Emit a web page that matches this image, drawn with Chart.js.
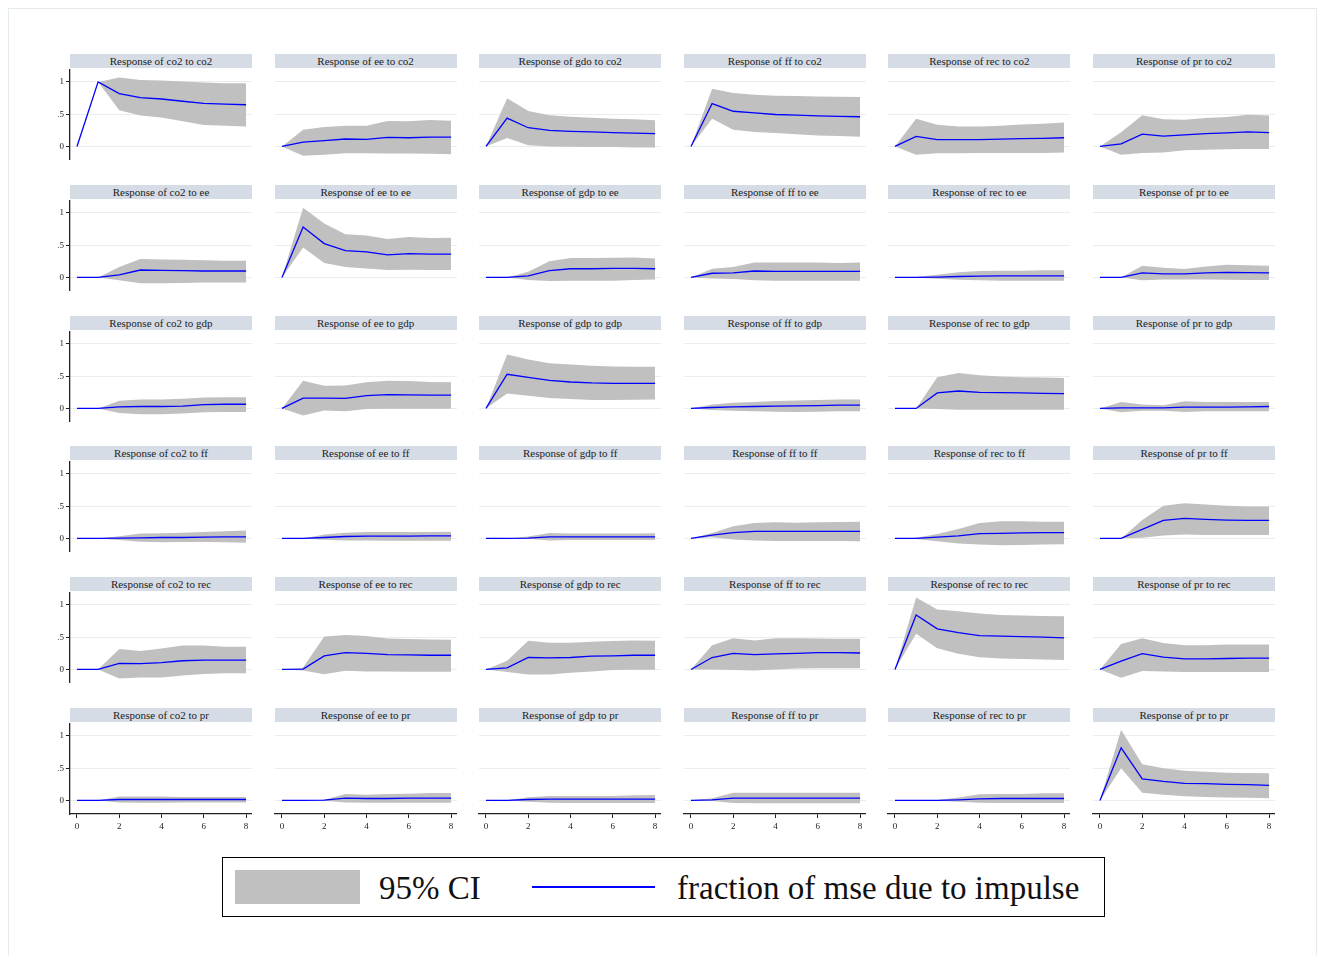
<!DOCTYPE html>
<html>
<head>
<meta charset="utf-8">
<script src="https://cdn.jsdelivr.net/npm/chart.js@4.4.1/dist/chart.umd.min.js"></script>
<style>
body{margin:0;background:#fff;font-family:"Liberation Serif","Times New Roman",serif}
#wrap{position:relative;width:1319px;height:956px;overflow:hidden}
#frame{position:absolute;left:8px;top:8px;width:1307px;height:960px;border:1px solid #e3ebee}
.ttl{position:absolute;width:182px;height:14px;line-height:14px;background:#d5dce6;color:#222;font-size:11px;text-align:center;white-space:nowrap}
canvas{position:absolute}
#legend{position:absolute;left:222px;top:857px;width:883px;height:60px;border:1.5px solid #000;box-sizing:border-box}
#legend .sw{position:absolute;left:12px;top:12px;width:125px;height:34px;background:#c0c0c0}
#legend .ln{position:absolute;left:309px;top:28px;width:123px;height:2px;background:#0000ff}
#legend .tx{position:absolute;top:10px;font-size:33px;line-height:40px;color:#111}
</style>
</head>
<body>
<div id="wrap">
<div id="frame"></div>
<div id="legend">
<div class="sw"></div><div class="tx" style="left:156px">95% CI</div>
<div class="ln"></div><div class="tx" style="left:454px">fraction of mse due to impulse</div>
</div>
</div>
<script>

// horizon steps and variable names (responses = columns, impulses = rows)
const steps=[0,1,2,3,4,5,6,7,8]
const names=["co2","ee","gdp","ff","rec","pr"]

// impulse co2: series for responses co2, ee, gdp, ff, rec, pr
const irf_co2=[
[0,1.0,0.82,0.755,0.735,0.70,0.667,0.656,0.646],
[0,0.068,0.09,0.115,0.11,0.14,0.135,0.145,0.145],
[0,0.44,0.29,0.25,0.235,0.225,0.215,0.205,0.20],
[0,0.665,0.545,0.52,0.495,0.485,0.475,0.465,0.46],
[0,0.155,0.105,0.105,0.105,0.115,0.12,0.125,0.135],
[0,0.04,0.19,0.16,0.18,0.20,0.21,0.225,0.215]]
const lo_co2=[
[0,1.0,0.56,0.48,0.45,0.39,0.333,0.32,0.31],
[0,-0.145,-0.13,-0.105,-0.105,-0.11,-0.11,-0.115,-0.12],
[0,0.13,0.02,0,-0.005,-0.01,-0.01,-0.015,-0.015],
[0,0.43,0.26,0.225,0.21,0.19,0.17,0.16,0.15],
[0,-0.13,-0.105,-0.105,-0.10,-0.10,-0.10,-0.10,-0.095],
[0,-0.13,-0.10,-0.095,-0.06,-0.05,-0.045,-0.04,-0.04]]
const hi_co2=[
[0,1.0,1.07,1.03,1.02,1.005,0.99,0.98,0.98],
[0,0.26,0.30,0.32,0.32,0.395,0.39,0.41,0.40],
[0,0.745,0.55,0.485,0.46,0.445,0.43,0.42,0.405],
[0,0.895,0.83,0.80,0.785,0.78,0.775,0.77,0.765],
[0,0.43,0.335,0.31,0.31,0.32,0.34,0.35,0.37],
[0,0.22,0.485,0.42,0.415,0.44,0.455,0.49,0.48]]

// impulse ee
const irf_ee=[
[0,0,0.04,0.115,0.11,0.105,0.10,0.10,0.10],
[0,0.78,0.525,0.415,0.395,0.35,0.37,0.36,0.36],
[0,0,0.025,0.105,0.135,0.135,0.14,0.14,0.135],
[0,0.065,0.07,0.10,0.095,0.095,0.095,0.095,0.095],
[0,0,0.005,0.015,0.02,0.025,0.025,0.025,0.025],
[0,0,0.07,0.055,0.055,0.07,0.08,0.075,0.07]]
const lo_ee=[
[0,0,-0.045,-0.09,-0.09,-0.085,-0.08,-0.08,-0.08],
[0,0.465,0.225,0.16,0.14,0.115,0.12,0.115,0.115],
[0,0,-0.04,-0.055,-0.05,-0.05,-0.05,-0.04,-0.03],
[0,-0.015,-0.025,-0.045,-0.05,-0.05,-0.05,-0.05,-0.05],
[0,-0.005,-0.02,-0.035,-0.045,-0.05,-0.05,-0.05,-0.05],
[0,0,-0.045,-0.03,-0.03,-0.03,-0.035,-0.04,-0.04]]
const hi_ee=[
[0,0,0.16,0.285,0.28,0.275,0.265,0.26,0.26],
[0,1.08,0.835,0.67,0.65,0.595,0.625,0.61,0.615],
[0,0,0.09,0.25,0.30,0.30,0.305,0.31,0.295],
[0,0.135,0.16,0.23,0.23,0.23,0.23,0.225,0.23],
[0,0.005,0.04,0.08,0.10,0.105,0.105,0.11,0.11],
[0,0,0.18,0.15,0.13,0.17,0.195,0.19,0.18]]

// impulse gdp
const irf_gdp=[
[0,0,0.025,0.03,0.03,0.035,0.06,0.065,0.065],
[0,0.16,0.16,0.155,0.20,0.215,0.21,0.205,0.205],
[0,0.53,0.48,0.435,0.41,0.395,0.39,0.39,0.39],
[0,0.015,0.025,0.03,0.035,0.04,0.045,0.05,0.05],
[0,0,0.24,0.27,0.25,0.245,0.24,0.235,0.23],
[0,0.01,0.01,0.01,0.02,0.02,0.02,0.025,0.03]]
const lo_gdp=[
[0,0,-0.07,-0.09,-0.09,-0.08,-0.06,-0.055,-0.055],
[0,-0.11,-0.03,-0.045,-0.01,-0.005,-0.005,-0.005,-0.005],
[0,0.23,0.195,0.16,0.145,0.13,0.13,0.135,0.14],
[0,-0.025,-0.035,-0.045,-0.05,-0.055,-0.05,-0.045,-0.045],
[0,0,-0.01,-0.02,-0.02,-0.02,-0.02,-0.02,-0.02],
[0,-0.06,-0.035,-0.035,-0.055,-0.045,-0.045,-0.045,-0.045]]
const hi_gdp=[
[0,0,0.12,0.14,0.14,0.15,0.17,0.175,0.175],
[0,0.43,0.35,0.355,0.405,0.43,0.425,0.41,0.405],
[0,0.835,0.76,0.70,0.68,0.66,0.65,0.645,0.645],
[0,0.06,0.09,0.10,0.115,0.125,0.13,0.14,0.14],
[0,0,0.485,0.55,0.515,0.495,0.485,0.48,0.47],
[0,0.10,0.06,0.05,0.11,0.10,0.10,0.10,0.10]]

// impulse ff
const irf_ff=[
[0,0,0.005,0.01,0.015,0.015,0.02,0.025,0.025],
[0,0,0.015,0.03,0.035,0.035,0.035,0.04,0.04],
[0,0,0.005,0.025,0.025,0.025,0.025,0.025,0.025],
[0,0.05,0.09,0.11,0.11,0.11,0.11,0.11,0.11],
[0,0,0.02,0.04,0.075,0.08,0.085,0.09,0.09],
[0,0,0.14,0.28,0.31,0.295,0.285,0.28,0.28]]
const lo_ff=[
[0,0,-0.025,-0.05,-0.06,-0.055,-0.055,-0.06,-0.065],
[0,0,-0.02,-0.03,-0.03,-0.035,-0.035,-0.035,-0.035],
[0,0,-0.005,-0.03,-0.025,-0.025,-0.025,-0.025,-0.025],
[0,0.02,-0.015,-0.03,-0.04,-0.04,-0.04,-0.04,-0.045],
[0,-0.01,-0.045,-0.08,-0.095,-0.105,-0.10,-0.095,-0.09],
[0,0,0.01,0.045,0.06,0.055,0.055,0.055,0.055]]
const hi_ff=[
[0,0,0.035,0.075,0.08,0.09,0.10,0.11,0.125],
[0,0,0.06,0.09,0.10,0.10,0.10,0.10,0.105],
[0,0,0.03,0.085,0.075,0.075,0.075,0.075,0.08],
[0,0.085,0.19,0.24,0.25,0.245,0.25,0.255,0.26],
[0,0.01,0.07,0.145,0.24,0.265,0.265,0.26,0.26],
[0,0,0.285,0.505,0.545,0.525,0.505,0.495,0.495]]

// impulse rec
const irf_rec=[
[0,0,0.095,0.09,0.105,0.135,0.145,0.145,0.145],
[0,0.005,0.21,0.26,0.25,0.23,0.225,0.22,0.22],
[0,0.025,0.185,0.18,0.185,0.205,0.21,0.22,0.22],
[0,0.185,0.25,0.23,0.24,0.25,0.26,0.26,0.255],
[0,0.845,0.63,0.57,0.525,0.515,0.51,0.50,0.49],
[0,0.13,0.245,0.19,0.165,0.165,0.17,0.175,0.175]]
const lo_rec=[
[0,0,-0.14,-0.125,-0.125,-0.095,-0.07,-0.06,-0.06],
[0,-0.015,-0.075,-0.02,-0.03,-0.03,-0.035,-0.035,-0.035],
[0,-0.04,-0.08,-0.08,-0.05,-0.03,-0.01,-0.005,-0.005],
[0,0,-0.01,-0.015,0,0.015,0.02,0.02,0.02],
[0,0.555,0.33,0.245,0.19,0.17,0.16,0.155,0.145],
[0,-0.13,-0.025,-0.03,-0.04,-0.04,-0.04,-0.04,-0.04]]
const hi_rec=[
[0,0,0.315,0.285,0.325,0.37,0.37,0.35,0.35],
[0,0.03,0.51,0.535,0.52,0.48,0.47,0.465,0.46],
[0,0.135,0.445,0.415,0.415,0.43,0.44,0.45,0.445],
[0,0.375,0.485,0.45,0.485,0.485,0.48,0.475,0.475],
[0,1.115,0.93,0.90,0.865,0.845,0.835,0.83,0.825],
[0,0.395,0.485,0.41,0.375,0.375,0.385,0.385,0.385]]

// impulse pr
const irf_pr=[
[0,0,0.015,0.015,0.015,0.015,0.015,0.015,0.015],
[0,0,0.005,0.035,0.03,0.03,0.035,0.035,0.035],
[0,0,0.015,0.02,0.02,0.02,0.02,0.02,0.02],
[0,0.01,0.035,0.035,0.035,0.035,0.035,0.035,0.035],
[0,0,0,0.01,0.025,0.03,0.03,0.03,0.03],
[0,0.815,0.335,0.295,0.265,0.26,0.25,0.245,0.235]]
const lo_pr=[
[0,0,-0.03,-0.035,-0.035,-0.03,-0.03,-0.03,-0.03],
[0,0,-0.005,-0.03,-0.035,-0.035,-0.035,-0.035,-0.035],
[0,0,-0.02,-0.035,-0.04,-0.04,-0.04,-0.04,-0.04],
[0,-0.01,-0.04,-0.045,-0.045,-0.045,-0.045,-0.045,-0.045],
[0,0,-0.005,-0.02,-0.035,-0.04,-0.04,-0.04,-0.04],
[0,0.50,0.12,0.09,0.065,0.055,0.045,0.04,0.035]]
const hi_pr=[
[0,0,0.06,0.06,0.06,0.055,0.055,0.055,0.055],
[0,0,0.01,0.10,0.09,0.10,0.105,0.115,0.115],
[0,0,0.05,0.07,0.07,0.07,0.07,0.08,0.085],
[0,0.035,0.12,0.12,0.12,0.12,0.12,0.12,0.12],
[0,0,0.005,0.045,0.095,0.10,0.10,0.11,0.11],
[0,1.095,0.56,0.50,0.46,0.445,0.43,0.425,0.42]]

const yTicks=[0,0.5,1]
const xTicks=[0,2,4,6,8]

const mids=[irf_co2,irf_ee,irf_gdp,irf_ff,irf_rec,irf_pr]
const los=[lo_co2,lo_ee,lo_gdp,lo_ff,lo_rec,lo_pr]
const his=[hi_co2,hi_ee,hi_gdp,hi_ff,hi_rec,hi_pr]

const wrap=document.getElementById("wrap")
const tickFont={family:"Liberation Serif",size:9}

function pts(arr){
return steps.map((s,i)=>({x:s,y:arr[i]}))
}

function makePanel(r,c){

const left=70+c*204.6
const top=69+r*130.8
const bottom=r==5

let title=names[c]=="gdp"&&r==0 ? "gdo" : names[c]
const t=document.createElement("div")
t.className="ttl"
t.style.left=left+"px"
t.style.top=(top-15)+"px"
t.textContent="Response of "+title+" to "+names[r]
wrap.appendChild(t)

const cv=document.createElement("canvas")
cv.width=200
cv.height=bottom ? 113 : 91
cv.style.left=(left-18)+"px"
cv.style.top=top+"px"
wrap.appendChild(cv)

new Chart(cv,{
type:"line",
data:{
datasets:[
{data:pts(los[r][c]),borderWidth:0,pointRadius:0,fill:false,order:2},
{data:pts(his[r][c]),borderWidth:0,pointRadius:0,fill:"-1",backgroundColor:"#c0c0c0",order:1},
{data:pts(mids[r][c]),borderColor:"#0000ff",borderWidth:1.3,pointRadius:0,fill:false,order:0}
]
},
options:{
responsive:false,
animation:false,
devicePixelRatio:1,
layout:{padding:0},
plugins:{legend:{display:false},tooltip:{enabled:false}},
scales:{
x:{
type:"linear",min:-0.33,max:8.28,
display:bottom,
afterBuildTicks:s=>{s.ticks=xTicks.map(v=>({value:v}))},
afterFit:s=>{
s.paddingLeft=0;s.paddingRight=0
if(bottom) s.height=22
},
ticks:{font:tickFont,color:"#222",padding:3,maxRotation:0},
grid:{drawOnChartArea:false,drawTicks:true,tickLength:4,tickColor:"#222"},
border:{color:"#222",width:1.3}
},
y:{
min:-0.21,max:1.2,
afterBuildTicks:s=>{s.ticks=yTicks.map(v=>({value:v}))},
afterFit:s=>{s.width=18;s.paddingTop=0;s.paddingBottom=0},
ticks:{display:c==0,font:tickFont,color:"#222",padding:2,callback:v=>v==0.5 ? ".5" : v},
grid:{color:"#e6eef1",lineWidth:1,drawTicks:c==0,tickLength:4,tickColor:"#222"},
border:{display:c==0,color:"#222",width:1.3}
}
}
}
})

}

for(let r=0;r<6;r++){
for(let c=0;c<6;c++){
makePanel(r,c)
}
}

</script>
</body>
</html>
